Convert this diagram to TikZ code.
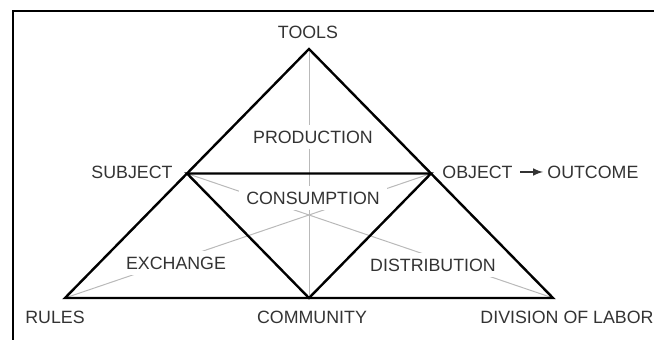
\documentclass[tikz,border=0pt]{standalone}
\usepackage{fontspec}
\setmainfont{Liberation Sans}
\usetikzlibrary{positioning}

\definecolor{inkgray}{HTML}{333333}

\begin{document}
\begin{tikzpicture}[x = 0.5pt, y = -0.5pt, > = latex,
	font = \fontsize{8.9}{10}\selectfont,
	edge/.style = {line width = 1.2pt, line join = miter},
	link/.style = {gray!55, line width = 0.5pt},
	word/.style = {text = inkgray, inner sep = 0pt},
	gapword/.style = {word, fill = white, inner xsep = 3.5pt, inner ysep = 3pt}]

\useasboundingbox (0, 0) rectangle (654, 340);

% frame
\draw [line width = 1pt] (12.5, 345) -- (12.5, 11) -- (660, 11);

% corners of the triangle
\coordinate (tools) at (309, 49);
\coordinate (rules) at (65, 298);
\coordinate (division) at (553, 298);
\coordinate (subject) at (187, 173.5);
\coordinate (object) at (431, 173.5);
\coordinate (community) at (309, 298);

% thin lines through the middle
\draw [link] (tools) -- (community);
\draw [link] (subject) -- (division);
\draw [link] (object) -- (rules);

% activity names
\node [gapword] (production) at (313, 137) {PRODUCTION};
\node [gapword] (consumption) at (313, 198) {CONSUMPTION};
\node [gapword] (exchange) at (176, 263) {EXCHANGE};
\node [gapword] (distribution) at (433, 265) {DISTRIBUTION};

% triangles
\draw [edge] (tools) -- (division) -- (rules) -- cycle;
\draw [edge] (subject) -- (object) -- (community) -- cycle;

% corner names
\node [word] (toolslbl) at (308, 32) {TOOLS};
\node [word] (subjectlbl) at (132, 172) {SUBJECT};
\node [word, anchor = west] (objectlbl) at (442, 172) {OBJECT};
\node [word, right = 17pt of objectlbl] (outcome) {OUTCOME};
\node [word] (ruleslbl) at (55, 317) {RULES};
\node [word] (communitylbl) at (312, 317) {COMMUNITY};
\node [word] (divisionlbl) at (567, 317) {DIVISION OF LABOR};

\draw [->, line width = 0.7pt, inkgray, shorten <= 3.5pt, shorten >= 2pt] (objectlbl) -- (outcome);

\end{tikzpicture}
\end{document}
